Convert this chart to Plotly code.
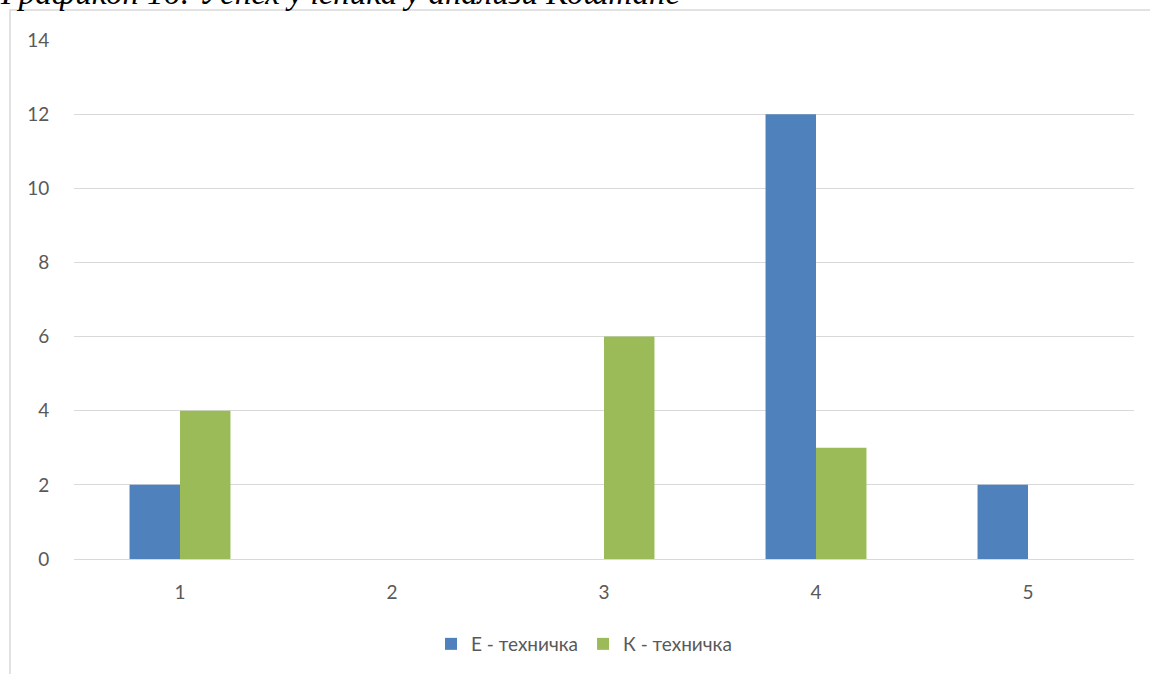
import plotly.graph_objects as go

# Grade categories and counts per class
categories = ["1", "2", "3", "4", "5"]
e_tech = [2, 0, 0, 12, 2]
k_tech = [4, 0, 6, 3, 0]
series_names = ["Е - техничка", "К - техничка"]
y_ticks = [0, 2, 4, 6, 8, 10, 12, 14]
title_text = "Графикон 16: Успех ученика у анализи Коштане"

W, H = 1150, 674
ML, MR, MT, MB = 74, 16, 40, 114
PW, PH = W - ML - MR, H - MT - MB


def px_x(p):
    return (p - ML) / PW


def px_y(p):
    return (H - MB - p) / PH


font_main = "Lato, 'Open Sans', sans-serif"
grey_txt = "#595959"

fig = go.Figure()
fig.add_trace(go.Bar(x=categories, y=e_tech, name=series_names[0],
                     marker=dict(color="#4F81BD", line=dict(width=0))))
fig.add_trace(go.Bar(x=categories, y=k_tech, name=series_names[1],
                     marker=dict(color="#9BBB59", line=dict(width=0))))

# chart frame (extends past the page on the right and bottom)
fig.add_shape(type="rect", xref="paper", yref="paper",
              x0=px_x(10), x1=px_x(1170), y0=px_y(700), y1=px_y(10),
              line=dict(color="#D9D9D9", width=1.5), fillcolor="rgba(0,0,0,0)",
              layer="below")

# caption above the chart
fig.add_annotation(text="<i>" + title_text + "</i>", xref="paper", yref="paper",
                   x=px_x(-2), y=px_y(13), xanchor="left", yanchor="bottom",
                   showarrow=False,
                   font=dict(family="'Liberation Serif', 'Times New Roman', serif",
                             size=33, color="#000000"))

fig.update_layout(
    width=W, height=H,
    margin=dict(l=ML, r=MR, t=MT, b=MB, pad=0),
    paper_bgcolor="white", plot_bgcolor="white",
    barmode="group", bargap=0.524, bargroupgap=0,
    font=dict(family=font_main, size=19, color=grey_txt),
    showlegend=True,
    legend=dict(orientation="h", x=px_x(584), xanchor="center",
                y=px_y(644), yanchor="middle",
                font=dict(family=font_main, size=19, color=grey_txt),
                itemwidth=30, tracegroupgap=0),
)
fig.update_xaxes(showgrid=False, showline=False, zeroline=False,
                 ticks="outside", ticklen=16, tickcolor="rgba(0,0,0,0)",
                 tickfont=dict(size=19, color=grey_txt))
fig.update_yaxes(range=[0, 14], tickvals=y_ticks, showgrid=True,
                 gridcolor="#D9D9D9", gridwidth=1.3, zeroline=True,
                 zerolinecolor="#D9D9D9", zerolinewidth=1.3, showline=False,
                 ticks="outside", ticklen=20, tickcolor="rgba(0,0,0,0)",
                 tickfont=dict(size=19, color=grey_txt))

fig.write_html("out.html")
